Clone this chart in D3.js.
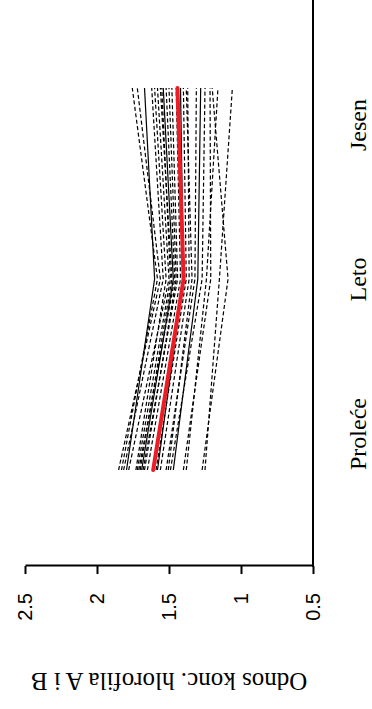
<!DOCTYPE html>
<html><head><meta charset="utf-8">
<script src="https://cdn.jsdelivr.net/npm/d3@7"></script>
<style>html,body{margin:0;padding:0;background:#fff;}svg{display:block;}</style>
</head><body>
<script>
const categories = ["Proleće", "Leto", "Jesen"];
const yTicks = [0.5, 1, 1.5, 2, 2.5];
const yTickLabels = ["0.5", "1", "1.5", "2", "2.5"];
const axisTitle = "Odnos konc. hlorofila A i B";
// individual series (Proleće, Leto, Jesen)
const spring = [1.85,1.83,1.815,1.795,1.78,1.73,1.72,1.71,1.70,1.69,1.68,1.67,1.65,1.59,1.58,1.56,1.52,1.505,1.49,1.47,1.40,1.38,1.27,1.25];
const summer = [1.56,1.58,1.54,1.60,1.50,1.52,1.49,1.46,1.48,1.47,1.44,1.45,1.42,1.38,1.40,1.36,1.32,1.34,1.27,1.30,1.21,1.24,1.09,1.15];
const autumn = [1.72,1.755,1.62,1.67,1.58,1.60,1.55,1.52,1.56,1.54,1.48,1.50,1.45,1.40,1.42,1.37,1.31,1.38,1.25,1.28,1.215,1.16,1.20,1.06];
const solidIdx = [3, 9, 14, 19];

const svg = d3.select("body").append("svg").attr("width", 372).attr("height", 709);
const g = svg.append("g").attr("transform", "translate(0,709) rotate(-90)");

const y = d3.scaleLinear().domain([0.5, 2.5]).range([313, 25]);
const x = d3.scalePoint().domain(categories).range([239, 621]);
const xLab = d3.scalePoint().domain(categories).range([275, 584]);

const series = spring.map((v, i) => [spring[i], summer[i], autumn[i]]);
const mean = [d3.mean(spring), d3.mean(summer), d3.mean(autumn)];

const line = d3.line().x((d, i) => x(categories[i])).y(d => y(d));

g.selectAll("path.s").data(series).join("path")
  .attr("class", "s")
  .attr("d", line)
  .attr("fill", "none")
  .attr("stroke", "#000")
  .attr("stroke-width", 1.2)
  .attr("stroke-dasharray", (d, i) => solidIdx.includes(i) ? null : "4,2.5");

g.append("path").attr("d", line(mean))
  .attr("fill", "none").attr("stroke", "#ee1c25").attr("stroke-width", 4)
  .attr("stroke-linecap", "round").attr("stroke-linejoin", "round");

// value axis
const ya = g.append("g").attr("transform", "translate(143,0)")
  .call(d3.axisLeft(y).tickValues(yTicks).tickSize(8).tickSizeOuter(0).tickPadding(19)
    .tickFormat((d, i) => yTickLabels[i]));
ya.select(".domain").attr("stroke", "#000").attr("stroke-width", 2);
ya.selectAll(".tick line").attr("stroke", "#000").attr("stroke-width", 2);
ya.selectAll(".tick text").attr("font-family", "Liberation Sans, Arial, sans-serif")
  .attr("font-size", 20).attr("fill", "#000");

// category axis line
g.append("line").attr("x1", 142).attr("x2", 720).attr("y1", y(0.5)).attr("y2", y(0.5))
  .attr("stroke", "#000").attr("stroke-width", 2);

g.selectAll("text.cat").data(categories).join("text")
  .attr("class", "cat")
  .attr("x", d => xLab(d)).attr("y", 366)
  .attr("text-anchor", "middle")
  .attr("font-family", "Liberation Serif, Times New Roman, serif")
  .attr("font-size", 24).attr("fill", "#000")
  .text(d => d);

g.append("text")
  .attr("transform", `translate(36,${(y(0.5) + y(2.5)) / 2}) rotate(-90)`)
  .attr("text-anchor", "middle")
  .attr("font-family", "Liberation Serif, Times New Roman, serif")
  .attr("font-size", 25).attr("fill", "#000")
  .text(axisTitle);
</script>
</body></html>
